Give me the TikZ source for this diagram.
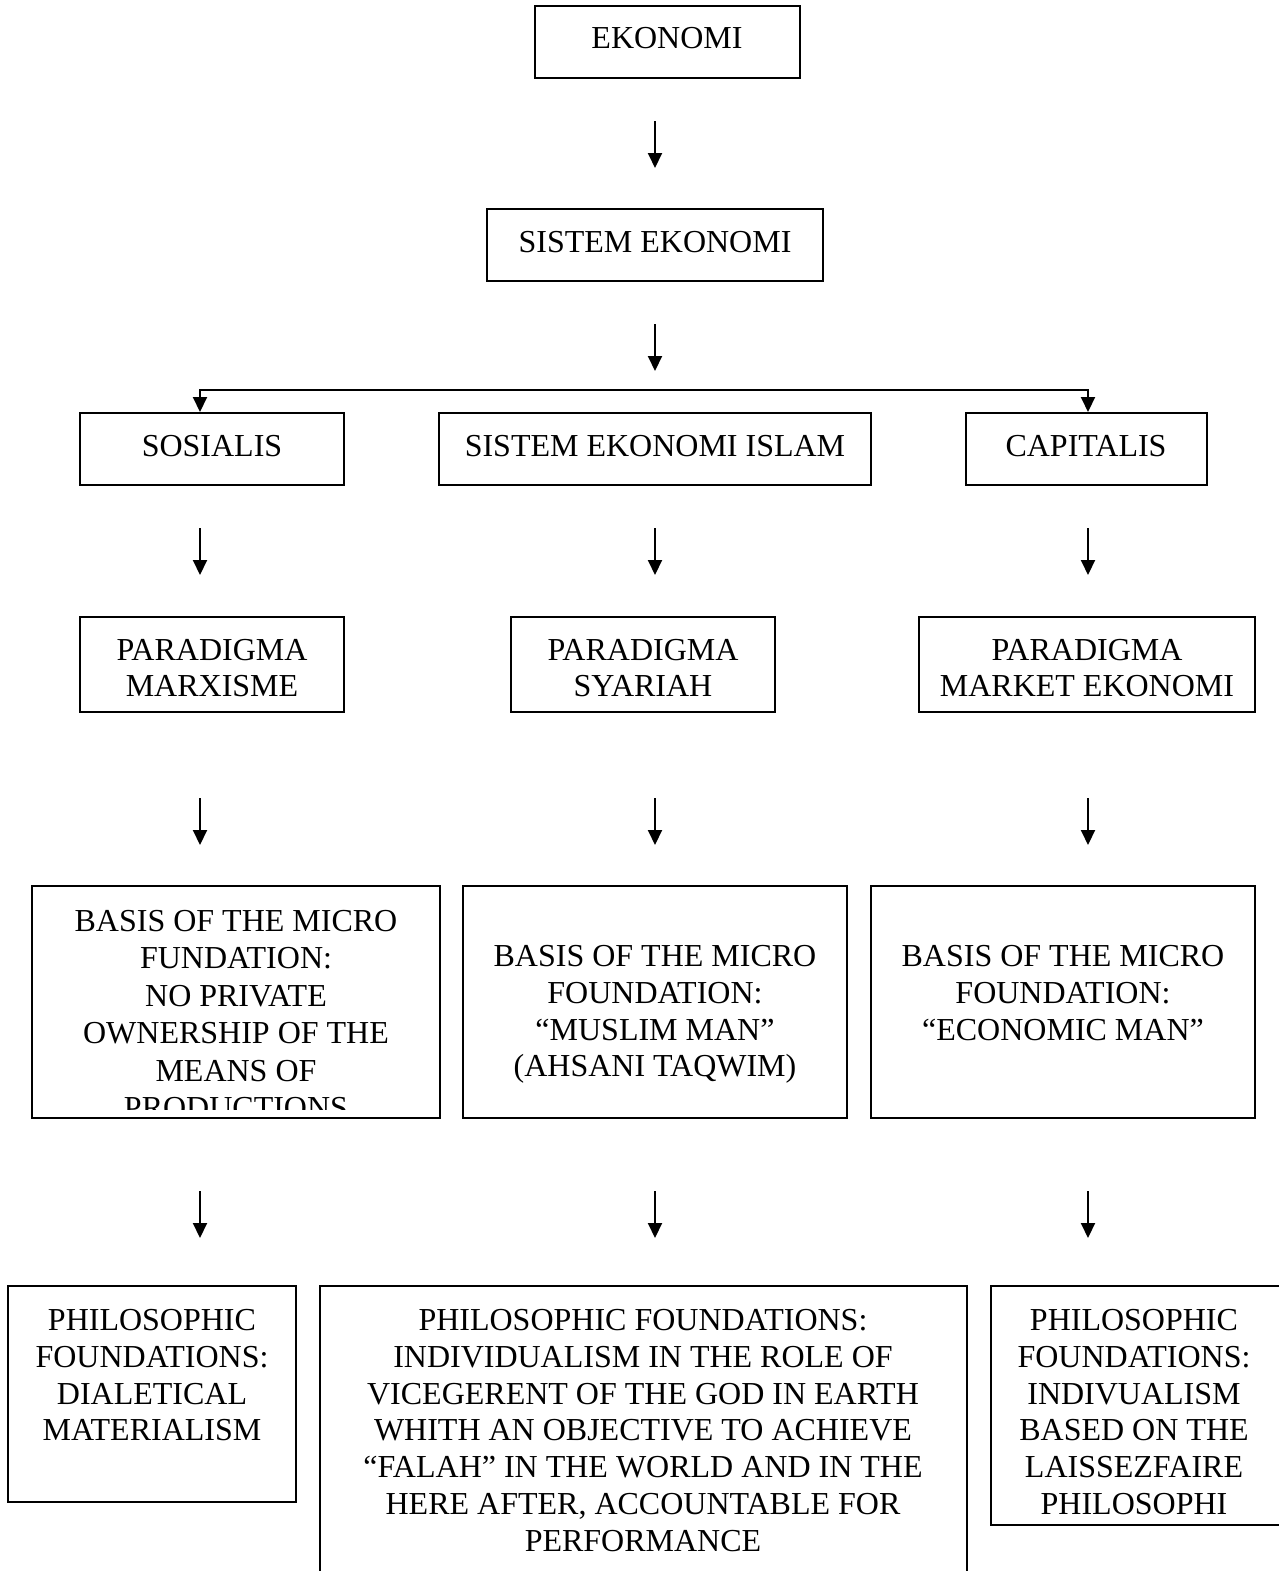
\documentclass[tikz,border=0pt]{standalone}
\usepackage{fontspec}
\setmainfont{Liberation Serif}
\usetikzlibrary{arrows.meta}
\begin{document}
\begin{tikzpicture}[x=1pt,y=-1pt,
 box/.style={draw,line width=2pt,inner sep=0pt},
 txt/.style={align=center,inner sep=0pt,anchor=north,font=\fontsize{32}{36.7}\selectfont},
 arr/.style={line width=2pt,-{Triangle[length=15pt,width=14pt]}}]
\useasboundingbox (0,0) rectangle (1279,1571);
% boxes
\node[box,minimum width=265pt,minimum height=72pt] (ek) at (667.5,42) {};
\node[box,minimum width=336pt,minimum height=72pt] (sis) at (655,245) {};
\node[box,minimum width=264pt,minimum height=72pt] (sos) at (212,449) {};
\node[box,minimum width=432pt,minimum height=72pt] (isl) at (655,449) {};
\node[box,minimum width=241pt,minimum height=72pt] (cap) at (1086.5,449) {};
\node[box,minimum width=264pt,minimum height=95pt] (parm) at (212,664.5) {};
\node[box,minimum width=264pt,minimum height=95pt] (pars) at (643,664.5) {};
\node[box,minimum width=336pt,minimum height=95pt] (park) at (1087,664.5) {};
\node[box,minimum width=408pt,minimum height=232pt] (basm) at (236,1002) {};
\node[box,minimum width=384pt,minimum height=232pt] (bass) at (655,1002) {};
\node[box,minimum width=384pt,minimum height=232pt] (bask) at (1063,1002) {};
\node[box,minimum width=288pt,minimum height=216pt] (phim) at (152,1394) {};
\node[box,minimum width=647pt,minimum height=314pt] (phis) at (643.5,1443) {};
\node[box,minimum width=304pt,minimum height=239pt] (phik) at (1143,1405.5) {};
% texts
\node[txt] (ek-t) at (667,22.3) {\strut EKONOMI};
\node[txt] (sis-t) at (655,226.6) {\strut SISTEM EKONOMI};
\node[txt] (sos-t) at (212,430.3) {\strut SOSIALIS};
\node[txt] (isl-t) at (655,430.3) {\strut SISTEM EKONOMI ISLAM};
\node[txt] (cap-t) at (1086,430.3) {\strut CAPITALIS};
\begin{scope}[txt/.append style={font=\fontsize{32}{35.8}\selectfont}]
\node[txt] (parm-t) at (212,635.6) {\strut PARADIGMA\\MARXISME};
\node[txt] (pars-t) at (643,635.6) {\strut PARADIGMA\\SYARIAH};
\node[txt] (park-t) at (1087,635.6) {\strut PARADIGMA\\MARKET EKONOMI};
\end{scope}
\begin{scope}
\clip (32,886) rectangle (440,1109);
\node[txt,font=\fontsize{32}{37.5}\selectfont] (basm-t) at (236,904.9) {\strut BASIS OF THE MICRO\\FUNDATION:\\NO PRIVATE\\OWNERSHIP OF THE\\MEANS OF\\PRODUCTIONS};
\end{scope}
\node[txt] (bass-t) at (655,940.9) {\strut BASIS OF THE MICRO\\FOUNDATION:\\“MUSLIM MAN”\\(AHSANI TAQWIM)};
\node[txt] (bask-t) at (1063,940.9) {\strut BASIS OF THE MICRO\\FOUNDATION:\\“ECONOMIC MAN”};
\node[txt] (phim-t) at (152,1304.9) {\strut PHILOSOPHIC\\FOUNDATIONS:\\DIALETICAL\\MATERIALISM};
\node[txt] (phis-t) at (643,1304.9) {\strut PHILOSOPHIC FOUNDATIONS:\\INDIVIDUALISM IN THE ROLE OF\\VICEGERENT OF THE GOD IN EARTH\\WHITH AN OBJECTIVE TO ACHIEVE\\“FALAH” IN THE WORLD AND IN THE\\HERE AFTER, ACCOUNTABLE FOR\\PERFORMANCE};
\node[txt] (phik-t) at (1134,1304.9) {\strut PHILOSOPHIC\\FOUNDATIONS:\\INDIVUALISM\\BASED ON THE\\LAISSEZFAIRE\\PHILOSOPHI};
% arrows
\draw[arr] ([yshift=-42pt]ek.south -| sis.north) -- ([yshift=-89pt]ek.south -| sis.north);
\draw[arr] ([yshift=-42pt]sis.south) -- ([yshift=-89pt]sis.south);
\coordinate (br) at ([yshift=-108pt]sis.south);
\draw[arr] (br) -| ([xshift=-12pt]sos.north);
\draw[arr] (br) -| ([xshift=1.5pt]cap.north);
\draw[arr] ([xshift=-12pt,yshift=-42pt]sos.south) -- ([xshift=-12pt,yshift=-89pt]sos.south);
\draw[arr] ([yshift=-42pt]isl.south) -- ([yshift=-89pt]isl.south);
\draw[arr] ([xshift=1.5pt,yshift=-42pt]cap.south) -- ([xshift=1.5pt,yshift=-89pt]cap.south);
\draw[arr] ([xshift=-12pt,yshift=-85pt]parm.south) -- ([xshift=-12pt,yshift=-132pt]parm.south);
\draw[arr] ([xshift=12pt,yshift=-85pt]pars.south) -- ([xshift=12pt,yshift=-132pt]pars.south);
\draw[arr] ([xshift=1pt,yshift=-85pt]park.south) -- ([xshift=1pt,yshift=-132pt]park.south);
\draw[arr] ([xshift=-36pt,yshift=-72pt]basm.south) -- ([xshift=-36pt,yshift=-119pt]basm.south);
\draw[arr] ([yshift=-72pt]bass.south) -- ([yshift=-119pt]bass.south);
\draw[arr] ([xshift=25pt,yshift=-72pt]bask.south) -- ([xshift=25pt,yshift=-119pt]bask.south);
\end{tikzpicture}
\end{document}
